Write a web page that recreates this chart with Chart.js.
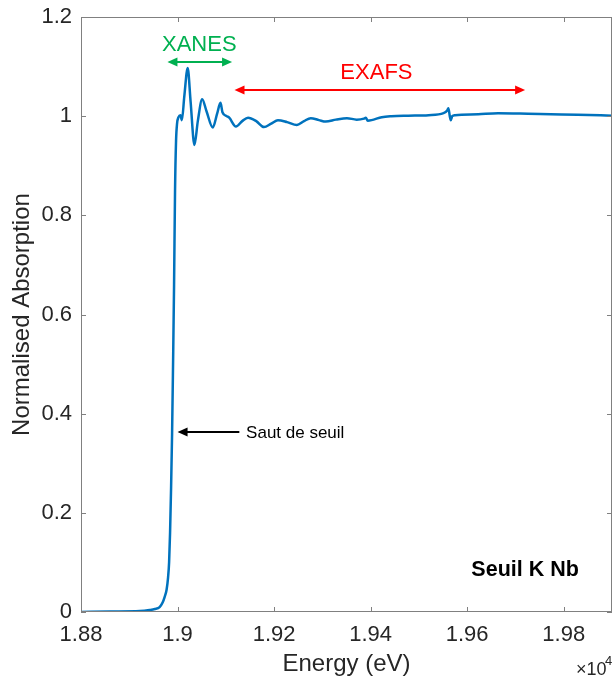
<!DOCTYPE html>
<html>
<head>
<meta charset="utf-8">
<script src="https://cdn.jsdelivr.net/npm/chart.js@4.4.1/dist/chart.umd.min.js"></script>
<style>
  html, body { margin: 0; padding: 0; background: #fff; }
  #wrap { width: 613px; height: 683px; }
</style>
</head>
<body>
<div id="wrap"><canvas id="xas"></canvas></div>
<script>
// energy in units of 1e4 eV, as shown on the axis
const energy = [
  1.88000, 1.88600, 1.89220, 1.89420, 1.89530, 1.89629, 1.89691, 1.89732, 1.89773, 1.89804,
  1.89825, 1.89845, 1.89866, 1.89887, 1.89907, 1.89928, 1.89948, 1.89969, 1.89990, 1.9002,
  1.9006, 1.9009, 1.9014, 1.9021, 1.9027, 1.9035, 1.9042, 1.9051, 1.9060, 1.9073,
  1.9082, 1.9089, 1.9093, 1.9102, 1.9107, 1.9121, 1.9134, 1.9146, 1.9163, 1.9179,
  1.9194, 1.9208, 1.9227, 1.9247, 1.9262, 1.9276, 1.9293, 1.9307, 1.9328, 1.9351,
  1.9371, 1.9386, 1.9390, 1.9394, 1.9402, 1.9423, 1.9443, 1.9478, 1.9520, 1.9551,
  1.9559, 1.9561, 1.9564, 1.9566, 1.9569, 1.9575, 1.9623, 1.9664, 1.9726, 1.9773,
  1.9829, 1.9900
];
const absorption = [
  0.000, 0.001, 0.002, 0.004, 0.006, 0.010, 0.019, 0.030, 0.045, 0.070,
  0.100, 0.160, 0.250, 0.360, 0.500, 0.660, 0.850, 0.950, 0.985, 0.998,
  1.002, 0.992, 1.040, 1.097, 1.030, 0.942, 0.990, 1.034, 1.010, 0.977,
  1.005, 1.027, 1.008, 1.000, 0.997, 0.979, 0.990, 0.997, 0.990, 0.978,
  0.985, 0.992, 0.988, 0.982, 0.990, 0.996, 0.992, 0.989, 0.993, 0.996,
  0.993, 0.995, 0.997, 0.991, 0.992, 0.998, 1.000, 1.001, 1.002, 1.006,
  1.012, 1.016, 1.000, 0.992, 1.000, 1.002, 1.004, 1.006, 1.005, 1.004,
  1.003, 1.001
];
const xTicks = [1.88, 1.9, 1.92, 1.94, 1.96, 1.98];
const yTicks = [0, 0.2, 0.4, 0.6, 0.8, 1, 1.2];

const FONT = 'Liberation Sans, Arial, sans-serif';
const tickFont = { family: FONT, size: 22 };
const textCol = '#262626';

function arrow(ctx, x1, y, x2, color, headStart, headEnd) {
  ctx.strokeStyle = color;
  ctx.fillStyle = color;
  ctx.lineWidth = 2;
  ctx.beginPath();
  ctx.moveTo(x1 + (headStart ? 6 : 0), y);
  ctx.lineTo(x2 - (headEnd ? 6 : 0), y);
  ctx.stroke();
  const head = (tip, dir) => {
    ctx.beginPath();
    ctx.moveTo(tip, y);
    ctx.lineTo(tip - dir * 10, y - 4.5);
    ctx.lineTo(tip - dir * 10, y + 4.5);
    ctx.closePath();
    ctx.fill();
  };
  if (headStart) head(x1, -1);
  if (headEnd) head(x2, 1);
}

const decor = {
  id: 'decor',
  afterDraw(chart) {
    const { ctx, chartArea: a, scales: { x, y } } = chart;
    ctx.save();
    // box + inward ticks
    ctx.strokeStyle = '#808080';
    ctx.lineWidth = 1;
    ctx.strokeRect(a.left + 0.5, a.top + 0.5, a.right - a.left - 1, a.bottom - a.top - 1);
    ctx.beginPath();
    xTicks.forEach(v => {
      const px = Math.round(x.getPixelForValue(v)) + 0.5;
      ctx.moveTo(px, a.bottom); ctx.lineTo(px, a.bottom - 5);
      ctx.moveTo(px, a.top); ctx.lineTo(px, a.top + 5);
    });
    yTicks.forEach(v => {
      const py = Math.round(y.getPixelForValue(v)) + 0.5;
      ctx.moveTo(a.left, py); ctx.lineTo(a.left + 5, py);
      ctx.moveTo(a.right, py); ctx.lineTo(a.right - 5, py);
    });
    ctx.stroke();

    // annotations
    ctx.textBaseline = 'middle';
    ctx.textAlign = 'center';
    ctx.font = '22px ' + FONT;
    ctx.fillStyle = '#00b050';
    ctx.fillText('XANES', x.getPixelForValue(1.9045), y.getPixelForValue(1.1436));
    arrow(ctx, x.getPixelForValue(1.8979), y.getPixelForValue(1.1093), x.getPixelForValue(1.9113), '#00b050', true, true);

    ctx.fillStyle = '#ff0000';
    ctx.fillText('EXAFS', x.getPixelForValue(1.9412), y.getPixelForValue(1.0871));
    arrow(ctx, x.getPixelForValue(1.9118), y.getPixelForValue(1.0528), x.getPixelForValue(1.9720), '#ff0000', true, true);

    arrow(ctx, x.getPixelForValue(1.9000), y.getPixelForValue(0.3631), x.getPixelForValue(1.9128), '#000000', true, false);
    ctx.fillStyle = '#000000';
    ctx.textAlign = 'left';
    ctx.font = '17px ' + FONT;
    ctx.fillText('Saut de seuil', x.getPixelForValue(1.9142), y.getPixelForValue(0.3631) + 1);

    ctx.textAlign = 'center';
    ctx.font = 'bold 21.5px ' + FONT;
    ctx.fillText('Seuil K Nb', x.getPixelForValue(1.972), y.getPixelForValue(0.0847));

    // exponent
    ctx.fillStyle = textCol;
    ctx.textAlign = 'left';
    ctx.font = '18px ' + FONT;
    ctx.fillText('\u00d710', 576, 670);
    ctx.font = '13px ' + FONT;
    ctx.fillText('4', 605, 661);
    ctx.restore();
  }
};

new Chart(document.getElementById('xas'), {
  type: 'line',
  data: {
    datasets: [{
      data: energy.map((e, i) => ({ x: e, y: absorption[i] })),
      borderColor: '#0072BD',
      borderWidth: 2.5,
      pointRadius: 0,
      cubicInterpolationMode: 'monotone',
      fill: false
    }]
  },
  options: {
    responsive: true,
    maintainAspectRatio: false,
    animation: false,
    layout: { padding: { top: 17, right: 1, left: 0, bottom: 0 } },
    plugins: { legend: { display: false }, tooltip: { enabled: false } },
    scales: {
      x: {
        type: 'linear',
        min: 1.88,
        max: 1.99,
        afterBuildTicks: s => { s.ticks = xTicks.map(v => ({ value: v })); },
        afterFit: s => { s.height = 71; s.paddingLeft = 0; s.paddingRight = 0; },
        grid: { display: false, drawTicks: false },
        border: { display: false },
        ticks: {
          autoSkip: false, maxRotation: 0, padding: 10,
          color: textCol, font: tickFont,
          callback: v => String(Number(v.toFixed(2)))
        },
        title: {
          display: true, text: 'Energy (eV)', color: textCol,
          font: { family: FONT, size: 24 },
          padding: { top: 0, bottom: 4 }
        }
      },
      y: {
        min: 0,
        max: 1.2,
        afterBuildTicks: s => { s.ticks = yTicks.map(v => ({ value: v })); },
        afterFit: s => { s.width = 81; s.paddingTop = 0; s.paddingBottom = 0; },
        grid: { display: false, drawTicks: false },
        border: { display: false },
        ticks: {
          padding: 9, color: textCol, font: tickFont,
          callback: v => String(Number(v.toFixed(1)))
        },
        title: {
          display: true, text: 'Normalised Absorption', color: textCol,
          font: { family: FONT, size: 24 },
          padding: { top: 8, bottom: 0 }
        }
      }
    }
  },
  plugins: [decor]
});
</script>
</body>
</html>
